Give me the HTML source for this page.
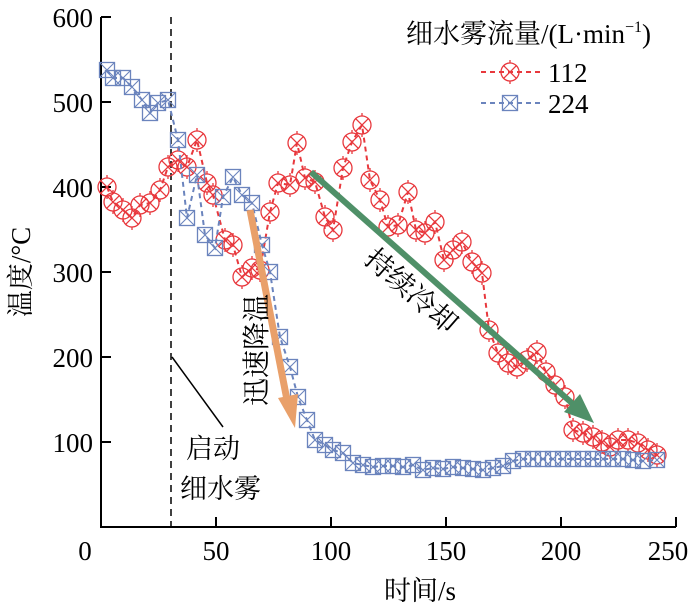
<!DOCTYPE html>
<html><head><meta charset="utf-8"><style>
body{margin:0;background:#fff}
svg{display:block}
text{font-family:"Liberation Serif","Noto Serif CJK SC","Noto Sans CJK SC",serif}
</style></head><body>
<svg width="700" height="611" viewBox="0 0 700 611" xmlns="http://www.w3.org/2000/svg" font-family="Liberation Serif, Noto Serif CJK SC, serif">
<defs>
<g id="cx"><circle r="9" fill="none" stroke="#e8383d" stroke-width="1.3"/><path d="M-6.3,-6.3L6.3,6.3M-6.3,6.3L6.3,-6.3M0,-9V-12M0,9V12" stroke="#e8383d" stroke-width="1.3"/></g>
<g id="sq"><rect x="-7.5" y="-7.5" width="15" height="15" fill="none" stroke="#6b84bd" stroke-width="1.3"/><path d="M-7.5,-7.5L7.5,7.5M-7.5,7.5L7.5,-7.5" stroke="#6b84bd" stroke-width="1.1"/></g>
</defs>
<g stroke="#000" stroke-width="2" fill="none">
<path d="M101,17V527H676"/>
<path d="M101,17H111M101,102H111M101,187H111M101,272H111M101,357H111M101,442H111"/>
<path d="M216,527V517M331,527V517M446,527V517M561,527V517M676,527V517"/>
</g>
<line x1="171" y1="17" x2="171" y2="527" stroke="#000" stroke-width="1.5" stroke-dasharray="7,5"/>
<line x1="172" y1="357" x2="223" y2="427" stroke="#000" stroke-width="1.5"/>
<g font-size="27" text-anchor="end">
<text x="93" y="27">600</text><text x="93" y="112">500</text><text x="93" y="197">400</text><text x="93" y="282">300</text><text x="93" y="367">200</text><text x="93" y="452">100</text>
</g>
<g font-size="27" text-anchor="middle">
<text x="85" y="560">0</text><text x="216" y="560">50</text><text x="331" y="560">100</text><text x="446" y="560">150</text><text x="561" y="560">200</text><text x="668" y="560">250</text>
<text x="420" y="600">时间/s</text>
</g>
<text transform="translate(30,272) rotate(-90)" font-size="27" text-anchor="middle">温度/°C</text>
<text x="186" y="458" font-size="27">启动</text>
<text x="180" y="498" font-size="27">细水雾</text>
<polyline fill="none" stroke="#e8383d" stroke-width="2" stroke-dasharray="5,4" points="107,187 113,202 123,210 132,218 140,205 150,203 160,190 168,167 178,160 187,167 197,140 207,183 213,195 225,240 233,245 242,277 252,268 260,270 270,212 278,183 290,185 297,143 305,178 315,182 325,217 333,230 343,168 352,142 362,125 370,180 380,200 388,227 398,225 408,192 416,230 425,233 435,222 444,260 453,250 462,242 472,262 482,273 489,330 498,353 508,363 517,367 527,360 537,352 546,372 555,385 565,397 573,430 583,433 593,437 602,442 610,447 618,440 628,440 638,443 648,450 657,455"/>
<g>
<use href="#cx" x="107" y="187"/><use href="#cx" x="113" y="202"/><use href="#cx" x="123" y="210"/><use href="#cx" x="132" y="218"/><use href="#cx" x="140" y="205"/><use href="#cx" x="150" y="203"/><use href="#cx" x="160" y="190"/><use href="#cx" x="168" y="167"/><use href="#cx" x="178" y="160"/><use href="#cx" x="187" y="167"/><use href="#cx" x="197" y="140"/><use href="#cx" x="207" y="183"/><use href="#cx" x="213" y="195"/><use href="#cx" x="225" y="240"/><use href="#cx" x="233" y="245"/><use href="#cx" x="242" y="277"/><use href="#cx" x="252" y="268"/><use href="#cx" x="260" y="270"/><use href="#cx" x="270" y="212"/><use href="#cx" x="278" y="183"/><use href="#cx" x="290" y="185"/><use href="#cx" x="297" y="143"/><use href="#cx" x="305" y="178"/><use href="#cx" x="315" y="182"/><use href="#cx" x="325" y="217"/><use href="#cx" x="333" y="230"/><use href="#cx" x="343" y="168"/><use href="#cx" x="352" y="142"/><use href="#cx" x="362" y="125"/><use href="#cx" x="370" y="180"/><use href="#cx" x="380" y="200"/><use href="#cx" x="388" y="227"/><use href="#cx" x="398" y="225"/><use href="#cx" x="408" y="192"/><use href="#cx" x="416" y="230"/><use href="#cx" x="425" y="233"/><use href="#cx" x="435" y="222"/><use href="#cx" x="444" y="260"/><use href="#cx" x="453" y="250"/><use href="#cx" x="462" y="242"/><use href="#cx" x="472" y="262"/><use href="#cx" x="482" y="273"/><use href="#cx" x="489" y="330"/><use href="#cx" x="498" y="353"/><use href="#cx" x="508" y="363"/><use href="#cx" x="517" y="367"/><use href="#cx" x="527" y="360"/><use href="#cx" x="537" y="352"/><use href="#cx" x="546" y="372"/><use href="#cx" x="555" y="385"/><use href="#cx" x="565" y="397"/><use href="#cx" x="573" y="430"/><use href="#cx" x="583" y="433"/><use href="#cx" x="593" y="437"/><use href="#cx" x="602" y="442"/><use href="#cx" x="610" y="447"/><use href="#cx" x="618" y="440"/><use href="#cx" x="628" y="440"/><use href="#cx" x="638" y="443"/><use href="#cx" x="648" y="450"/><use href="#cx" x="657" y="455"/>
</g>
<polyline fill="none" stroke="#6b84bd" stroke-width="2" stroke-dasharray="5,4" points="107,70 113,78 123,78 132,87 142,100 150,113 158,103 168,100 178,140 187,218 197,175 205,235 215,248 223,197 233,177 242,195 252,203 262,245 270,272 280,337 290,367 298,397 307,420 315,440 325,445 333,450 343,453 353,463 363,465 373,467 383,466 393,466 403,467 413,465 423,470 433,468 443,469 453,467 463,468 473,469 483,470 493,468 503,466 513,461 523,459 533,459 543,459 553,459 563,459 573,459 583,459 593,459 603,459 613,459 623,459 633,460 643,461 657,460"/>
<g>
<use href="#sq" x="107" y="70"/><use href="#sq" x="113" y="78"/><use href="#sq" x="123" y="78"/><use href="#sq" x="132" y="87"/><use href="#sq" x="142" y="100"/><use href="#sq" x="150" y="113"/><use href="#sq" x="158" y="103"/><use href="#sq" x="168" y="100"/><use href="#sq" x="178" y="140"/><use href="#sq" x="187" y="218"/><use href="#sq" x="197" y="175"/><use href="#sq" x="205" y="235"/><use href="#sq" x="215" y="248"/><use href="#sq" x="223" y="197"/><use href="#sq" x="233" y="177"/><use href="#sq" x="242" y="195"/><use href="#sq" x="252" y="203"/><use href="#sq" x="262" y="245"/><use href="#sq" x="270" y="272"/><use href="#sq" x="280" y="337"/><use href="#sq" x="290" y="367"/><use href="#sq" x="298" y="397"/><use href="#sq" x="307" y="420"/><use href="#sq" x="315" y="440"/><use href="#sq" x="325" y="445"/><use href="#sq" x="333" y="450"/><use href="#sq" x="343" y="453"/><use href="#sq" x="353" y="463"/><use href="#sq" x="363" y="465"/><use href="#sq" x="373" y="467"/><use href="#sq" x="383" y="466"/><use href="#sq" x="393" y="466"/><use href="#sq" x="403" y="467"/><use href="#sq" x="413" y="465"/><use href="#sq" x="423" y="470"/><use href="#sq" x="433" y="468"/><use href="#sq" x="443" y="469"/><use href="#sq" x="453" y="467"/><use href="#sq" x="463" y="468"/><use href="#sq" x="473" y="469"/><use href="#sq" x="483" y="470"/><use href="#sq" x="493" y="468"/><use href="#sq" x="503" y="466"/><use href="#sq" x="513" y="461"/><use href="#sq" x="523" y="459"/><use href="#sq" x="533" y="459"/><use href="#sq" x="543" y="459"/><use href="#sq" x="553" y="459"/><use href="#sq" x="563" y="459"/><use href="#sq" x="573" y="459"/><use href="#sq" x="583" y="459"/><use href="#sq" x="593" y="459"/><use href="#sq" x="603" y="459"/><use href="#sq" x="613" y="459"/><use href="#sq" x="623" y="459"/><use href="#sq" x="633" y="460"/><use href="#sq" x="643" y="461"/><use href="#sq" x="657" y="460"/>
</g>
<line x1="250" y1="210" x2="287" y2="400" stroke="#e9a06a" stroke-width="7"/>
<polygon points="295,428 278,398 298,394" fill="#e9a06a"/>
<line x1="311" y1="172" x2="573" y2="404" stroke="#4f9068" stroke-width="6"/>
<polygon points="594,423 564,412 580,394" fill="#4f9068"/>
<text transform="translate(266,350) rotate(-90)" font-size="28" text-anchor="middle">迅速降温</text>
<text transform="translate(405,298) rotate(41)" font-size="28" text-anchor="middle">持续冷却</text>
<text x="406" y="43" font-size="27">细水雾流量/(L·min<tspan font-size="16" dy="-11">−1</tspan><tspan dy="11">)</tspan></text>
<line x1="481" y1="72" x2="540" y2="72" stroke="#e8383d" stroke-width="2" stroke-dasharray="5,4"/>
<use href="#cx" x="510" y="72"/>
<text x="548" y="82" font-size="27">112</text>
<line x1="481" y1="103" x2="540" y2="103" stroke="#6b84bd" stroke-width="2" stroke-dasharray="5,4"/>
<use href="#sq" x="510" y="103"/>
<text x="548" y="113" font-size="27">224</text>
</svg>
</body></html>
